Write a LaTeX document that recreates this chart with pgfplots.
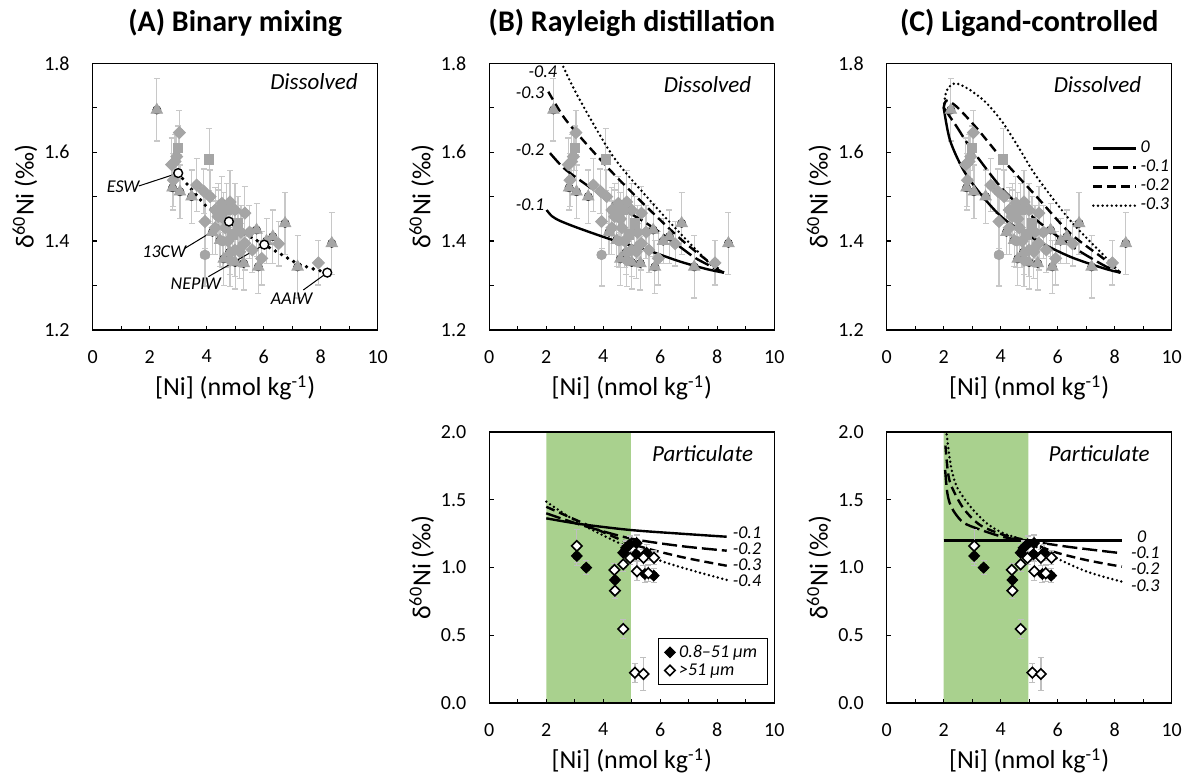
\documentclass[border=0pt]{standalone}
\usepackage{pgfplots}
\pgfplotsset{compat=1.18}
\usepackage{pgfplotstable}
\usepackage{fontspec}
\setmainfont{Carlito}

\definecolor{ptgray}{HTML}{A5A5A5}
\definecolor{errgray}{HTML}{C8C8C8}
\definecolor{perrgray}{HTML}{BFBFBF}
\definecolor{bandgreen}{HTML}{A9D18E}

\newcommand{\tickfont}{\fontsize{10}{12}\selectfont}
\newcommand{\labfont}{\fontsize{13}{15.6}\selectfont}
\newcommand{\titfont}{\fontsize{15}{18}\selectfont\bfseries}
\newcommand{\boxfont}{\fontsize{11.5}{13.8}\selectfont\itshape}
\newcommand{\curvefont}{\fontsize{9}{10.8}\selectfont\itshape}

% diamond with equal width and height
\pgfdeclareplotmark{rdiamond*}{%
  \pgfpathmoveto{\pgfqpoint{0pt}{\pgfplotmarksize}}%
  \pgfpathlineto{\pgfqpoint{\pgfplotmarksize}{0pt}}%
  \pgfpathlineto{\pgfqpoint{0pt}{-\pgfplotmarksize}}%
  \pgfpathlineto{\pgfqpoint{-\pgfplotmarksize}{0pt}}%
  \pgfpathclose
  \pgfusepathqfillstroke}

% dissolved Ni isotope data, by marker type
\pgfplotstableread{
x y ex ey
2.25 1.695 0 0.07
3.06 1.511 0 0.06
2.80 1.520 0 0.05
3.47 1.500 0 0.06
4.20 1.420 0 0.05
4.47 1.402 0 0.06
4.80 1.375 0 0.05
5.00 1.352 0 0.06
5.30 1.350 0 0.06
4.60 1.360 0 0.06
6.10 1.400 0 0.05
5.75 1.425 0 0.06
6.32 1.410 0 0.06
6.75 1.440 0 0.07
5.81 1.342 0 0.06
7.19 1.342 0 0.07
8.39 1.395 0 0.07
}\dtri
\pgfplotstableread{
x y ex ey
3.04 1.644 0 0.05
2.89 1.579 0 0.06
2.77 1.572 0 0.06
2.95 1.590 0 0.05
2.83 1.537 0 0.06
3.65 1.526 0 0.06
3.90 1.512 0 0.05
4.12 1.500 0 0.06
4.30 1.470 0 0.05
4.30 1.430 0 0.06
4.53 1.485 0 0.06
4.60 1.450 0 0.06
4.82 1.488 0 0.07
4.99 1.470 0 0.06
5.34 1.463 0 0.06
5.20 1.420 0 0.06
4.40 1.455 0 0.06
4.65 1.430 0 0.06
4.75 1.400 0 0.06
3.94 1.444 0 0.06
4.82 1.357 0 0.06
4.99 1.380 0 0.06
5.16 1.376 0 0.06
5.34 1.395 0 0.06
5.50 1.420 0 0.06
5.60 1.380 0 0.05
6.52 1.394 0 0.05
5.93 1.361 0 0.06
7.92 1.351 0 0.05
}\ddia
\pgfplotstableread{
x y ex ey
3.00 1.609 0 0.05
4.09 1.584 0 0.07
4.40 1.470 0 0.06
4.70 1.470 0 0.06
5.10 1.440 0 0.06
4.90 1.415 0 0.05
}\dsq
\pgfplotstableread{
x y ex ey
3.94 1.369 0.15 0.07
4.55 1.400 0.10 0.06
5.25 1.390 0.10 0.05
}\dcirc

% particulate data
\pgfplotstableread{
x y ey
3.07 1.085 0.07
3.40 0.999 0.05
4.41 0.908 0.05
4.70 1.109 0.06
4.80 1.145 0.05
4.94 1.173 0.06
5.17 1.180 0.06
5.15 1.098 0.05
5.52 1.109 0.06
5.46 0.952 0.06
5.77 0.940 0.05
}\psmall
\pgfplotstableread{
x y ey
3.07 1.159 0.12
4.39 0.982 0.05
4.70 1.023 0.05
4.41 0.829 0.06
4.70 0.546 0.07
4.94 1.070 0.05
5.18 0.972 0.07
5.41 1.072 0.06
5.58 0.958 0.06
5.78 1.072 0.05
5.11 0.224 0.07
5.41 0.214 0.12
}\plarge

\newcommand{\errpass}[1]{%
  \addplot[forget plot, only marks, mark=none,
    error bars/.cd, x dir=both, x explicit, y dir=both, y explicit,
    error bar style={draw=errgray, line width=0.6pt},
    error mark options={draw=errgray, line width=0.6pt, mark size=1.5pt, rotate=90}]
    table[x=x, y=y, x error=ex, y error=ey]{#1};}

\newcommand{\dissolvedpts}{%
  \errpass{\dtri}\errpass{\ddia}\errpass{\dsq}\errpass{\dcirc}
  \addplot[forget plot, only marks, mark=triangle*, mark size=3.3pt, color=ptgray] table[x=x, y=y]{\dtri};
  \addplot[forget plot, only marks, mark=rdiamond*, mark size=3pt, color=ptgray] table[x=x, y=y]{\ddia};
  \addplot[forget plot, only marks, mark=square*, mark size=2.3pt, color=ptgray] table[x=x, y=y]{\dsq};
  \addplot[forget plot, only marks, mark=*, mark size=2.4pt, color=ptgray] table[x=x, y=y]{\dcirc};}

\newcommand{\particulatepts}{%
  \addplot[forget plot, only marks, mark=none,
    error bars/.cd, y dir=both, y explicit,
    error bar style={draw=perrgray, line width=0.6pt},
    error mark options={draw=perrgray, line width=0.6pt, mark size=1.5pt, rotate=90}]
    table[x=x, y=y, y error=ey]{\psmall};
  \addplot[forget plot, only marks, mark=none,
    error bars/.cd, y dir=both, y explicit,
    error bar style={draw=perrgray, line width=0.6pt},
    error mark options={draw=perrgray, line width=0.6pt, mark size=1.5pt, rotate=90}]
    table[x=x, y=y, y error=ey]{\plarge};
  \addplot[only marks, mark=rdiamond*, mark size=2.6pt, mark options={fill=black, draw=black, line width=0.6pt}] table[x=x, y=y]{\psmall};
  \addplot[only marks, mark=rdiamond*, mark size=2.6pt, mark options={fill=white, draw=black, line width=0.8pt}] table[x=x, y=y]{\plarge};}

\tikzset{
  c-solid/.style={black, line width=1.2pt},
  c-long/.style={black, line width=1.2pt, dash pattern=on 7.5pt off 2.5pt},
  c-med/.style={black, line width=1.2pt, dash pattern=on 4.5pt off 2.5pt},
  c-dot/.style={black, line width=1.35pt, dash pattern=on 0pt off 2.3pt, line cap=round},
  clabel/.style={font=\curvefont, inner sep=0.3pt},
}

\pgfplotsset{
  panel/.style={
    scale only axis, width=142.5pt, xmin=0, xmax=10,
    xtick={0,2,4,6,8,10}, minor xtick={1,3,5,7,9},
    tick pos=left, tick align=inside,
    major tick length=2.2pt, minor tick length=2.2pt,
    tick style={black, line width=0.6pt},
    axis line style={black, line width=0.7pt},
    /pgf/number format/assume math mode=true,
    tick label style={font=\tickfont},
    xticklabel style={yshift=-6.5pt},
    yticklabel style={xshift=-8pt, /pgf/number format/.cd, fixed, fixed zerofill, precision=1},
    xlabel={[Ni] (nmol kg\textsuperscript{-1})},
    ylabel={δ\textsuperscript{60}Ni (‰)},
    label style={font=\labfont},
    xlabel style={at={(axis description cs:0.5,0)}, anchor=center, yshift=-29pt},
    ylabel style={at={(axis description cs:-0.2375,0.5)}, anchor=center},
    title style={at={(axis description cs:0.5,1)}, anchor=center, yshift=14.2pt, font=\titfont},
    axis on top,
  },
  toprow/.style={panel, height=133.35pt, ymin=1.2, ymax=1.8,
    ytick={1.2,1.4,1.6,1.8}, minor ytick={1.3,1.5,1.7}},
  botrow/.style={panel, height=135.5pt, ymin=0, ymax=2,
    ytick={0,0.5,1,1.5,2}},
}

\begin{document}
\begin{tikzpicture}
\useasboundingbox (0,0) rectangle (593.5pt,387.5pt);

% ---------------- (A) binary mixing ----------------
\begin{axis}[toprow, at={(46.35pt,222.5pt)}, anchor=south west, title={(A) Binary mixing}]
  \dissolvedpts
  \addplot[forget plot, black, line width=1.9pt, dash pattern=on 0pt off 3.5pt, line cap=round]
    coordinates {(3.00,1.553) (3.39,1.522) (3.94,1.481) (4.47,1.458) (4.78,1.444)
                 (5.40,1.414) (6.02,1.392) (7.16,1.350) (7.65,1.339) (8.23,1.329)};
  \draw[black, line width=0.5pt] (axis cs:1.62,1.524) -- (axis cs:3.00,1.553);
  \draw[black, line width=0.5pt] (axis cs:3.24,1.384) -- (axis cs:4.78,1.444);
  \draw[black, line width=0.5pt] (axis cs:4.06,1.320) -- (axis cs:6.02,1.392);
  \draw[black, line width=0.5pt] (axis cs:7.39,1.290) -- (axis cs:8.23,1.329);
  \addplot[forget plot, only marks, mark=*, mark size=2.2pt, mark options={fill=white, draw=black, line width=0.7pt}]
    coordinates {(3.00,1.553) (4.78,1.444) (6.02,1.392) (8.23,1.329)};
  \node[clabel] at (axis cs:1.07,1.522) {ESW};
  \node[clabel] at (axis cs:2.51,1.376) {13CW};
  \node[clabel] at (axis cs:3.62,1.305) {NEPIW};
  \node[clabel] at (axis cs:6.98,1.271) {AAIW};
  \node[font=\boxfont, anchor=east] at (rel axis cs:0.955,0.931) {Dissolved};
\end{axis}

% ---------------- (B) Rayleigh, dissolved ----------------
\begin{axis}[toprow, at={(244.65pt,222.5pt)}, anchor=south west, title={(B) Rayleigh distillation}]
  \dissolvedpts
  \addplot[forget plot, c-solid, smooth] coordinates {(2.01,1.470) (2.2,1.456) (2.5,1.445) (3.18,1.428) (4.35,1.402) (5.52,1.380) (6.69,1.354) (7.63,1.337) (8.23,1.329)};
  \addplot[forget plot, c-long, smooth] coordinates {(2.13,1.598) (2.6,1.565) (3.18,1.537) (4.35,1.485) (5.52,1.440) (6.69,1.387) (7.28,1.360) (8.23,1.329)};
  \addplot[forget plot, c-med, smooth] coordinates {(2.07,1.736) (2.6,1.680) (3.18,1.635) (4.35,1.552) (5.52,1.477) (6.69,1.406) (7.63,1.357) (8.23,1.329)};
  \addplot[forget plot, c-dot, smooth] coordinates {(2.0,1.910) (2.25,1.850) (2.54,1.800) (3.18,1.717) (4.35,1.590) (5.52,1.500) (6.69,1.418) (7.86,1.342) (8.23,1.329)};
  \node[clabel] at (axis cs:1.88,1.781) {-0.4};
  \node[clabel] at (axis cs:1.43,1.733) {-0.3};
  \node[clabel] at (axis cs:1.43,1.605) {-0.2};
  \node[clabel] at (axis cs:1.43,1.481) {-0.1};
  \node[font=\boxfont, anchor=east] at (rel axis cs:0.944,0.919) {Dissolved};
\end{axis}

% ---------------- (C) ligand-controlled, dissolved ----------------
\begin{axis}[toprow, at={(443.35pt,222.5pt)}, anchor=south west, title={(C) Ligand-controlled},
  legend style={at={(rel axis cs:0.719,0.717)}, anchor=north west, draw=none, fill=none,
    font=\curvefont, inner sep=0pt, row sep=0pt,
    nodes={inner xsep=1.5pt, inner ysep=0pt, text height=6.5pt, text depth=3pt}, cells={anchor=west}},
  legend image code/.code={\draw[#1] (0pt,0pt) -- (21.5pt,0pt);}]
  \dissolvedpts
  \addplot[c-solid, smooth] coordinates {(2.0,1.700) (2.22,1.627) (2.69,1.560) (3.27,1.508) (4.09,1.451) (5.26,1.402) (6.43,1.365) (7.60,1.339) (8.2,1.329)};
  \addlegendentry{0}
  \addplot[c-long, smooth] coordinates {(2.0,1.700) (2.46,1.657) (2.92,1.612) (4.09,1.515) (5.26,1.447) (6.43,1.391) (7.60,1.346) (8.2,1.329)};
  \addlegendentry{-0.1}
  \addplot[c-med, smooth] coordinates {(2.0,1.700) (2.1,1.716) (2.46,1.702) (3.16,1.654) (4.09,1.582) (5.26,1.500) (6.43,1.418) (7.60,1.361) (8.2,1.329)};
  \addlegendentry{-0.2}
  \addplot[c-dot, smooth] coordinates {(2.0,1.700) (2.1,1.738) (2.40,1.755) (2.92,1.740) (3.51,1.710) (4.09,1.665) (4.68,1.605) (5.26,1.545) (6.43,1.447) (7.60,1.369) (8.2,1.329)};
  \addlegendentry{-0.3}
  \node[font=\boxfont, anchor=east] at (rel axis cs:0.918,0.919) {Dissolved};
\end{axis}

% ---------------- (B) Rayleigh, particulate ----------------
\begin{axis}[botrow, at={(244.65pt,36pt)}, anchor=south west,
  legend style={at={(rel axis cs:0.977,0.0664)}, anchor=south east, draw=black, line width=0.6pt,
    fill=white, font=\curvefont, inner xsep=3pt, inner ysep=2.5pt, row sep=0pt,
    nodes={inner xsep=2pt, inner ysep=0.5pt, text height=6.5pt, text depth=1.5pt}, cells={anchor=west}}]
  \addplot[forget plot, fill=bandgreen, draw=none] coordinates {(2,0) (4.97,0) (4.97,2) (2,2)} \closedcycle;
  \addplot[forget plot, c-solid, smooth] coordinates {(2.0,1.363) (3.18,1.321) (4.94,1.277) (6.69,1.250) (8.33,1.227)};
  \addplot[forget plot, c-long, smooth] coordinates {(2.0,1.400) (3.18,1.317) (4.94,1.215) (6.69,1.159) (8.33,1.124)};
  \addplot[forget plot, c-med, smooth] coordinates {(2.0,1.448) (3.18,1.338) (4.94,1.178) (6.69,1.080) (8.33,1.013)};
  \addplot[forget plot, c-dot, smooth] coordinates {(2.0,1.486) (3.18,1.325) (4.94,1.142) (6.10,1.043) (7.27,0.969) (8.33,0.908)};
  \particulatepts
  \addlegendentry{0.8–51 µm}
  \addlegendentry{>51 µm}
  \node[clabel, anchor=west] at (axis cs:8.51,1.256) {-0.1};
  \node[clabel, anchor=west] at (axis cs:8.51,1.142) {-0.2};
  \node[clabel, anchor=west] at (axis cs:8.51,1.024) {-0.3};
  \node[clabel, anchor=west] at (axis cs:8.51,0.900) {-0.4};
  \node[font=\boxfont, anchor=east] at (rel axis cs:0.95,0.921) {Particulate};
\end{axis}

% ---------------- (C) ligand-controlled, particulate ----------------
\begin{axis}[botrow, at={(443.35pt,36pt)}, anchor=south west]
  \addplot[forget plot, fill=bandgreen, draw=none] coordinates {(2,0) (4.97,0) (4.97,2) (2,2)} \closedcycle;
  \addplot[forget plot, c-solid] coordinates {(2.0,1.20) (8.25,1.20)};
  \addplot[forget plot, c-long, smooth] coordinates {(2.05,1.72) (2.12,1.56) (2.22,1.47) (2.4,1.40) (2.7,1.33) (3.27,1.28) (4.09,1.225) (4.91,1.198) (6.43,1.151) (8.25,1.105)};
  \addplot[forget plot, c-med, smooth] coordinates {(2.06,1.90) (2.15,1.70) (2.28,1.596) (2.69,1.437) (3.27,1.314) (4.09,1.241) (4.91,1.198) (5.85,1.117) (7.02,1.054) (8.25,1.006)};
  \addplot[forget plot, c-dot, smooth] coordinates {(2.07,2.05) (2.10,1.99) (2.25,1.75) (2.46,1.596) (2.92,1.454) (3.51,1.326) (4.09,1.253) (4.91,1.192) (5.85,1.080) (7.02,0.970) (8.25,0.895)};
  \particulatepts
  \node[clabel] at (axis cs:8.95,1.230) {0};
  \node[clabel, anchor=west] at (axis cs:8.54,1.107) {-0.1};
  \node[clabel, anchor=west] at (axis cs:8.54,0.989) {-0.2};
  \node[clabel, anchor=west] at (axis cs:8.54,0.869) {-0.3};
  \node[font=\boxfont, anchor=east] at (rel axis cs:0.947,0.921) {Particulate};
\end{axis}
\end{tikzpicture}
\end{document}
